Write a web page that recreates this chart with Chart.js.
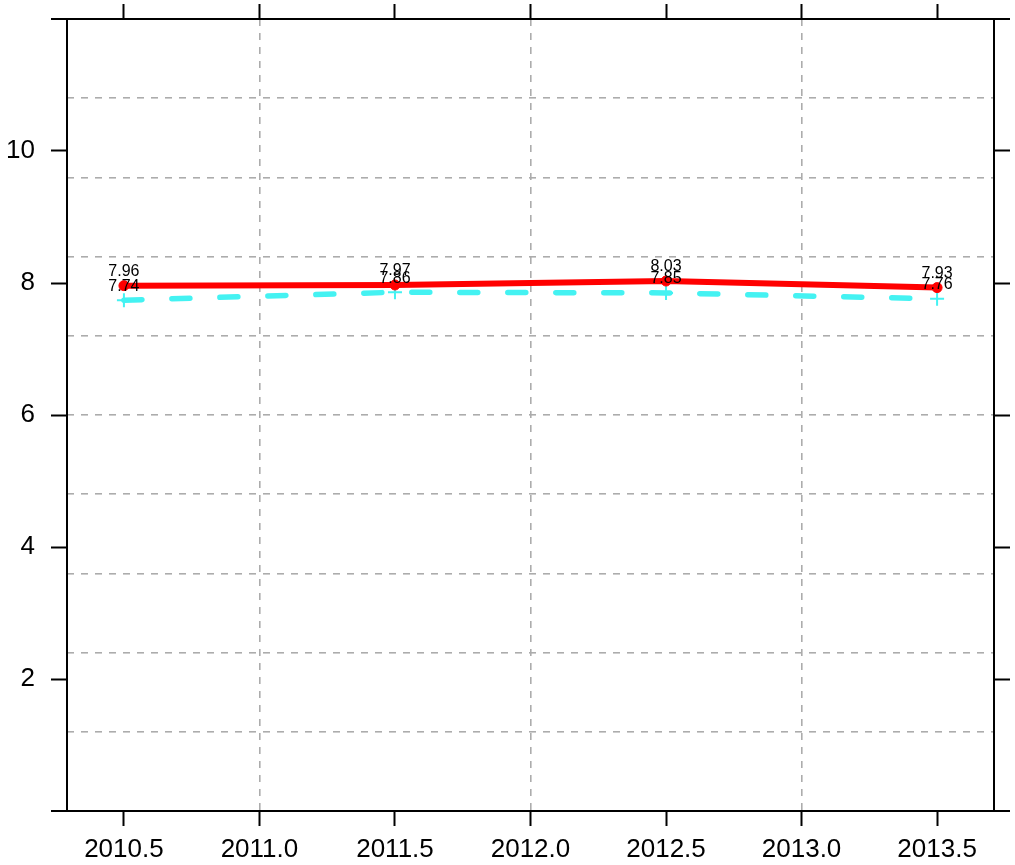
<!DOCTYPE html>
<html>
<head>
<meta charset="utf-8">
<script src="https://cdn.jsdelivr.net/npm/chart.js@4"></script>
<style>
  html, body { margin: 0; padding: 0; background: #fff; }
  #wrap { width: 1015px; height: 865px; }
</style>
</head>
<body>
<div id="wrap"><canvas id="c" width="1015" height="865"></canvas></div>
<script>
// data
var years = [2010.5, 2011.5, 2012.5, 2013.5];
var redVals = [7.96, 7.97, 8.03, 7.93];
var cyanVals = [7.74, 7.86, 7.85, 7.76];

var xTicks = [2010.5, 2011.0, 2011.5, 2012.0, 2012.5, 2013.0, 2013.5];
var xGridTicks = [2011.0, 2012.0, 2013.0];
var yTicks = [2, 4, 6, 8, 10];
var yGridTicks = [1.2, 2.4, 3.6, 4.8, 6.0, 7.2, 8.4, 9.6, 10.8];

var xMin = 2010.29, xMax = 2013.71;
var yMin = 0, yMax = 12;

Chart.defaults.font.family = "'Liberation Sans', Arial, sans-serif";
Chart.defaults.color = "#000";

function pts(vals) {
    return years.map(function (y, i) { return { x: y, y: vals[i] }; });
}
function setTicks(list) {
    return function (scale) {
        scale.ticks = list.map(function (v) { return { value: v }; });
    };
}

var gridColor = "#acacac";

// frame box + labels above points
var framePlugin = {
    id: "frame",
    beforeDatasetsDraw: function (chart) {
        var a = chart.chartArea, ctx = chart.ctx;
        ctx.save();
        ctx.strokeStyle = "#000";
        ctx.lineWidth = 2;
        ctx.beginPath();
        ctx.moveTo(a.left - 16, a.top); ctx.lineTo(a.right + 16, a.top);
        ctx.moveTo(a.left - 16, a.bottom); ctx.lineTo(a.right + 16, a.bottom);
        ctx.moveTo(a.left, a.top); ctx.lineTo(a.left, a.bottom);
        ctx.moveTo(a.right, a.top); ctx.lineTo(a.right, a.bottom);
        ctx.stroke();
        ctx.restore();
    },
    afterDatasetsDraw: function (chart) {
        var ctx = chart.ctx;
        ctx.save();
        ctx.font = "16px 'Liberation Sans', Arial, sans-serif";
        ctx.fillStyle = "#000";
        ctx.textAlign = "center";
        ctx.textBaseline = "middle";
        chart.data.datasets.forEach(function (ds, di) {
            chart.getDatasetMeta(di).data.forEach(function (el, i) {
                ctx.fillText(ds.data[i].y.toFixed(2), el.x, el.y - 14);
            });
        });
        ctx.restore();
    }
};

function tickAxis(axis, position, size, showLabels, tl, pad) {
    return {
        type: "linear",
        axis: axis,
        position: position,
        min: axis === "x" ? xMin : yMin,
        max: axis === "x" ? xMax : yMax,
        afterBuildTicks: setTicks(axis === "x" ? xTicks : yTicks),
        afterFit: function (s) {
            if (axis === "x") s.height = size; else s.width = size;
            s.paddingTop = 0; s.paddingBottom = 0;
            s.paddingLeft = 0; s.paddingRight = 0;
        },
        grid: {
            drawOnChartArea: false,
            drawTicks: true,
            tickLength: tl,
            tickColor: "#000",
            tickWidth: 2
        },
        border: { display: false },
        ticks: {
            display: showLabels,
            font: { size: 26 },
            padding: pad,
            maxRotation: 0,
            autoSkip: false,
            callback: function (v) { return axis === "x" ? v.toFixed(1) : String(v); }
        }
    };
}

function gridAxis(axis, position, list) {
    return {
        type: "linear",
        axis: axis,
        position: position,
        min: axis === "x" ? xMin : yMin,
        max: axis === "x" ? xMax : yMax,
        afterBuildTicks: setTicks(list),
        afterFit: function (s) {
            if (axis === "x") s.height = 0; else s.width = 0;
            s.paddingTop = 0; s.paddingBottom = 0;
            s.paddingLeft = 0; s.paddingRight = 0;
        },
        grid: {
            drawOnChartArea: true,
            drawTicks: false,
            color: gridColor,
            lineWidth: 1.6
        },
        border: { display: false, dash: [7, 7] },
        ticks: { display: false }
    };
}

new Chart(document.getElementById("c"), {
    type: "line",
    data: {
        datasets: [
            {
                label: "red",
                data: pts(redVals),
                borderColor: "#ff0000",
                backgroundColor: "#ff0000",
                borderWidth: 6,
                pointStyle: "circle",
                pointRadius: 5,
                pointBorderWidth: 1,
                tension: 0
            },
            {
                label: "cyan",
                data: pts(cyanVals),
                borderColor: "#44f2f2",
                backgroundColor: "#44f2f2",
                borderWidth: 5.5,
                borderDash: [18, 30],
                borderCapStyle: "round",
                pointStyle: "cross",
                pointRadius: 7,
                pointBorderWidth: 2,
                tension: 0
            }
        ]
    },
    options: {
        responsive: false,
        animation: false,
        layout: { padding: 0 },
        plugins: {
            legend: { display: false },
            tooltip: { enabled: false }
        },
        scales: {
            x: tickAxis("x", "bottom", 54, true, 15, 8),
            x2: tickAxis("x", "top", 19, false, 15, 0),
            xg: gridAxis("x", "bottom", xGridTicks),
            y: tickAxis("y", "left", 67, true, 16, 16),
            y2: tickAxis("y", "right", 21, false, 16, 0),
            yg: gridAxis("y", "left", yGridTicks)
        }
    },
    plugins: [framePlugin]
});
</script>
</body>
</html>
